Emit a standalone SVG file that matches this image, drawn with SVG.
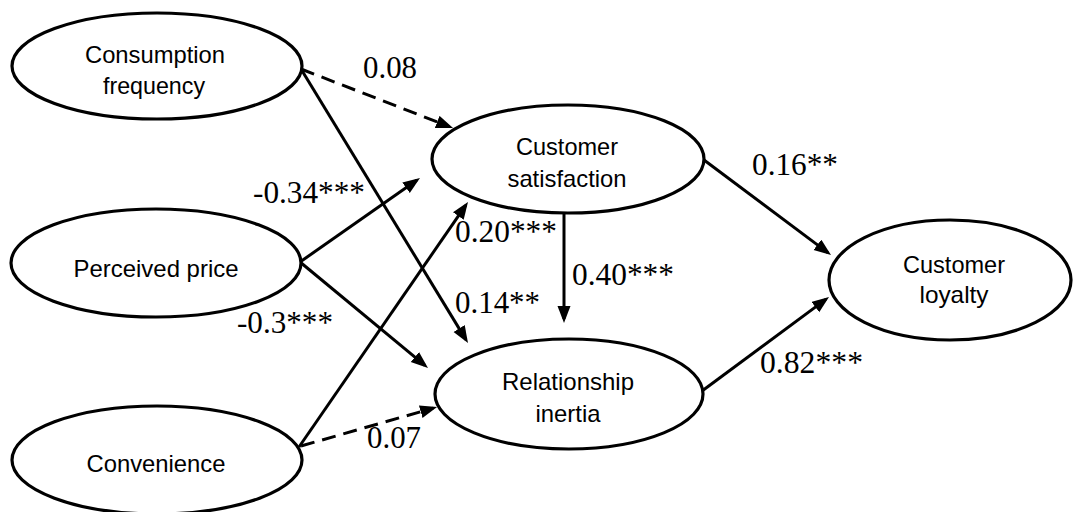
<svg xmlns="http://www.w3.org/2000/svg" width="1074" height="512" viewBox="0 0 1074 512">
  <defs>
    <style>
      .node ellipse { fill: #ffffff; stroke: #000000; stroke-width: 3.2; }
      .node text { font-family: "Liberation Sans", Arial, sans-serif; font-size: 24px; fill: #000000; text-anchor: middle; }
      .edge { stroke: #000000; stroke-width: 3; fill: none; marker-end: url(#arrow); }
      .dash { stroke-dasharray: 14 8; }
      .lbl { font-family: "Liberation Serif", "Times New Roman", serif; font-size: 32px; fill: #000000; }
    </style>
    <marker id="arrow" markerUnits="userSpaceOnUse" markerWidth="18" markerHeight="14" refX="13" refY="6.5" orient="auto">
      <path d="M0,0 L17,6.5 L0,13 z" fill="#000000"/>
    </marker>
  </defs>
  <rect x="0" y="0" width="1074" height="512" fill="#ffffff"/>

  <g id="connectors">
    <line class="edge dash" x1="301" y1="69" x2="449.3" y2="126.6"/>
    <line class="edge" x1="301" y1="69" x2="465.9" y2="339.6"/>
    <line class="edge" x1="300" y1="262" x2="416.7" y2="180.3"/>
    <line class="edge" x1="300" y1="262" x2="424.9" y2="365.4"/>
    <line class="edge" x1="299" y1="447" x2="465.7" y2="205.3"/>
    <line class="edge dash" x1="301" y1="446" x2="433.2" y2="408.1"/>
    <line class="edge" x1="564" y1="214" x2="564" y2="319"/>
    <line class="edge" x1="704" y1="160" x2="827.8" y2="252.6"/>
    <line class="edge" x1="702" y1="391" x2="825.8" y2="299.4"/>
  </g>

  <g id="node-consumption-frequency" class="node">
    <ellipse cx="157" cy="66" rx="145" ry="53"/>
    <text x="155" y="63" textLength="140" lengthAdjust="spacingAndGlyphs">Consumption</text>
    <text x="154" y="94" textLength="102" lengthAdjust="spacingAndGlyphs">frequency</text>
  </g>
  <g id="node-perceived-price" class="node">
    <ellipse cx="156" cy="263" rx="145" ry="54"/>
    <text x="156" y="277" textLength="165" lengthAdjust="spacingAndGlyphs">Perceived price</text>
  </g>
  <g id="node-convenience" class="node">
    <ellipse cx="157" cy="460" rx="145" ry="54"/>
    <text x="156" y="472" textLength="139" lengthAdjust="spacingAndGlyphs">Convenience</text>
  </g>
  <g id="node-customer-satisfaction" class="node">
    <ellipse cx="568" cy="159" rx="136" ry="54"/>
    <text x="567" y="155" textLength="102" lengthAdjust="spacingAndGlyphs">Customer</text>
    <text x="567" y="187" textLength="119" lengthAdjust="spacingAndGlyphs">satisfaction</text>
  </g>
  <g id="node-relationship-inertia" class="node">
    <ellipse cx="569" cy="394" rx="134" ry="55"/>
    <text x="568" y="390" textLength="132" lengthAdjust="spacingAndGlyphs">Relationship</text>
    <text x="568" y="422" textLength="65" lengthAdjust="spacingAndGlyphs">inertia</text>
  </g>
  <g id="node-customer-loyalty" class="node">
    <ellipse cx="950" cy="280" rx="121" ry="60"/>
    <text x="954" y="273" textLength="102" lengthAdjust="spacingAndGlyphs">Customer</text>
    <text x="954" y="303" textLength="69" lengthAdjust="spacingAndGlyphs">loyalty</text>
  </g>

  <g id="labels">
    <text class="lbl" x="363" y="78" textLength="54" lengthAdjust="spacingAndGlyphs">0.08</text>
    <text class="lbl" x="253" y="203" textLength="112" lengthAdjust="spacingAndGlyphs">-0.34***</text>
    <text class="lbl" x="237" y="333" textLength="96" lengthAdjust="spacingAndGlyphs">-0.3***</text>
    <text class="lbl" x="455" y="242" textLength="102" lengthAdjust="spacingAndGlyphs">0.20***</text>
    <text class="lbl" x="572" y="285" textLength="102" lengthAdjust="spacingAndGlyphs">0.40***</text>
    <text class="lbl" x="455" y="313" textLength="85" lengthAdjust="spacingAndGlyphs">0.14**</text>
    <text class="lbl" x="367" y="448" textLength="54" lengthAdjust="spacingAndGlyphs">0.07</text>
    <text class="lbl" x="752" y="175" textLength="86" lengthAdjust="spacingAndGlyphs">0.16**</text>
    <text class="lbl" x="760" y="373" textLength="103" lengthAdjust="spacingAndGlyphs">0.82***</text>
  </g>
</svg>
